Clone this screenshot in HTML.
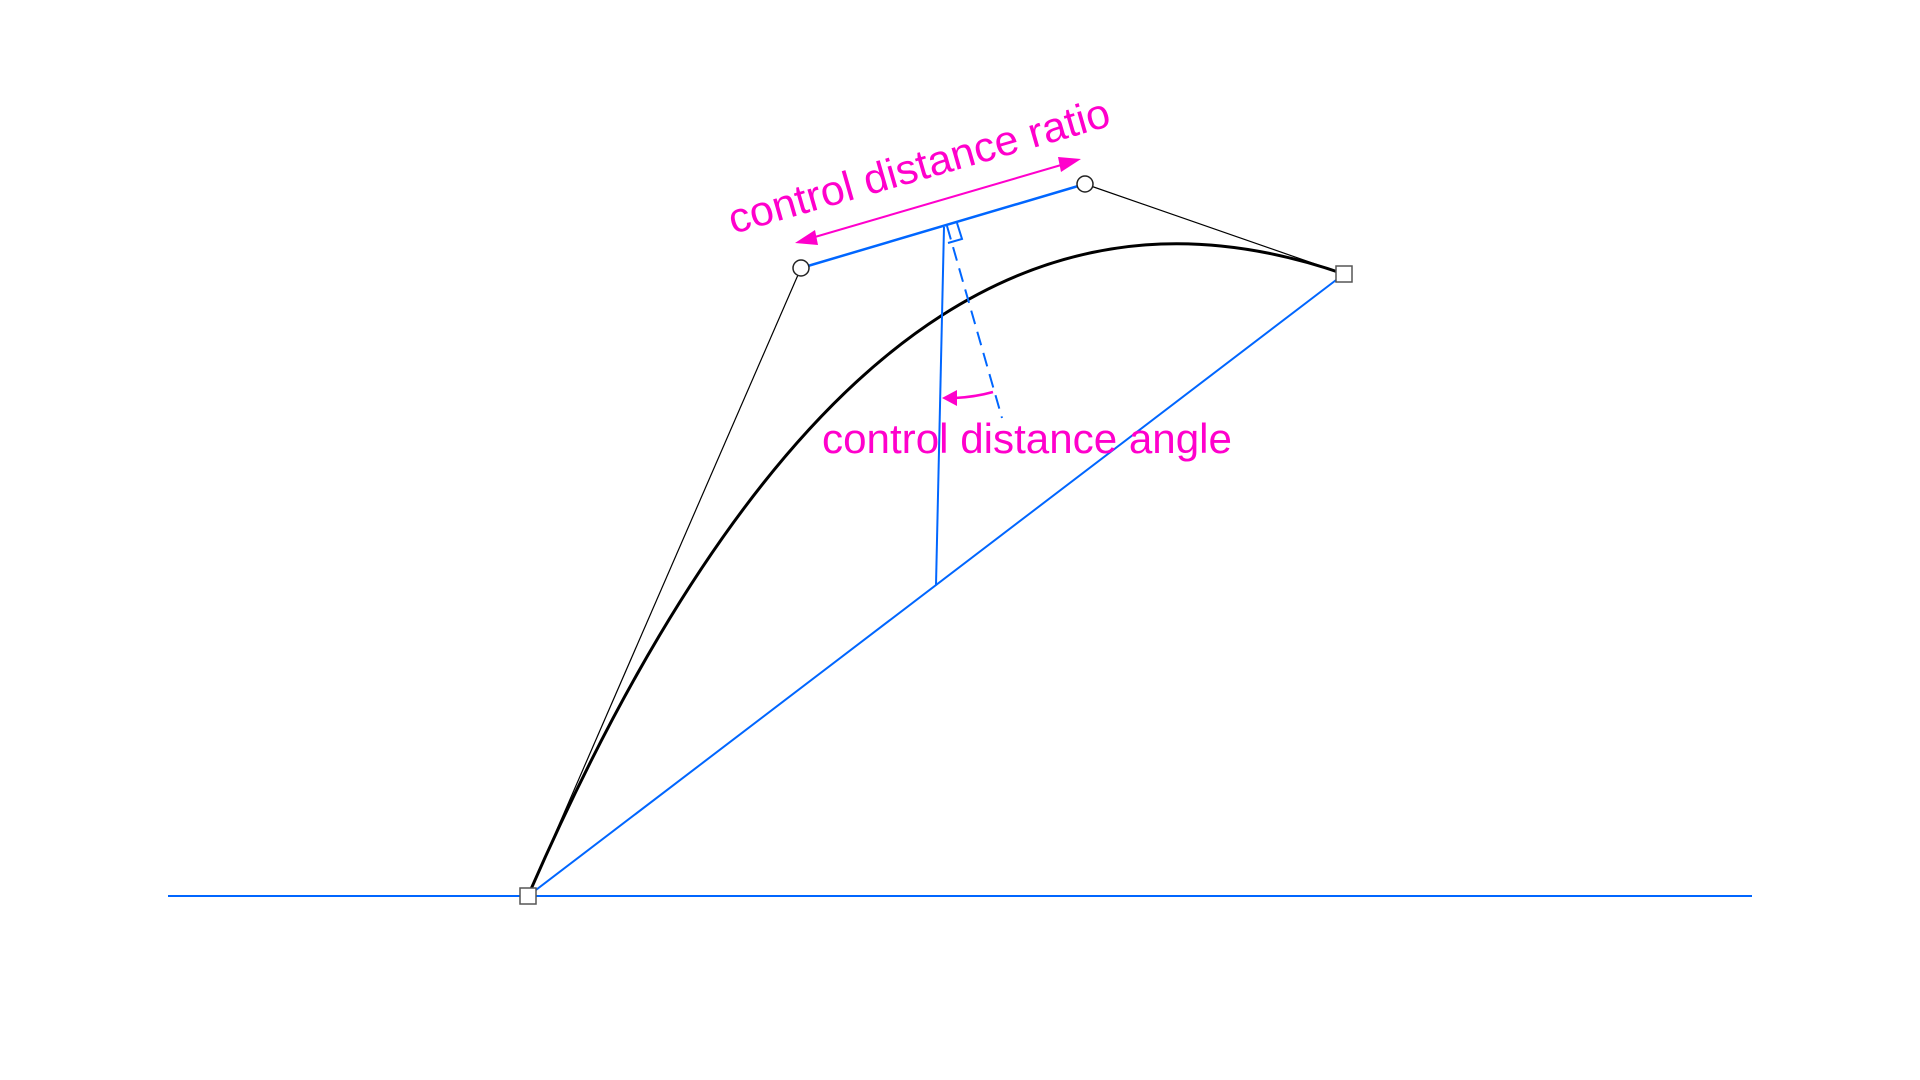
<!DOCTYPE html>
<html><head><meta charset="utf-8"><style>
html,body{margin:0;padding:0;background:#fff;width:1920px;height:1080px;overflow:hidden}
text{font-family:"Liberation Sans",sans-serif;fill:#ff00cc}
</style></head><body>
<svg width="1920" height="1080" viewBox="0 0 1920 1080">
<script>
const P0=[528,896], C1=[801,268], C2=[1085,184], P3=[1344,274];
</script>
<line x1="168" y1="896" x2="1752" y2="896" stroke="#0066ff" stroke-width="2"/>
<line x1="528" y1="896" x2="1344" y2="274" stroke="#0066ff" stroke-width="2"/>
<line x1="528" y1="896" x2="801" y2="268" stroke="#000" stroke-width="1.2"/>
<line x1="1085" y1="184" x2="1344" y2="274" stroke="#000" stroke-width="1.2"/>
<line x1="801" y1="268" x2="1085" y2="184" stroke="#0066ff" stroke-width="2.5"/>
<path d="M528,896 C801,268 1085,184 1344,274" fill="none" stroke="#000" stroke-width="3"/>
<line x1="944" y1="227" x2="936" y2="585" stroke="#0066ff" stroke-width="2"/>
<line x1="947" y1="226" x2="1002" y2="418" stroke="#0066ff" stroke-width="2" stroke-dasharray="14,8"/>
<path d="M957,223 L962,239 L948,243" fill="none" stroke="#0066ff" stroke-width="2"/>
<line x1="808" y1="239" x2="1068" y2="163" stroke="#ff00cc" stroke-width="2"/>
<path d="M795,243 L815,230 L818,245 z" fill="#ff00cc"/>
<path d="M1081,159 L1061,172 L1058,157 z" fill="#ff00cc"/>
<path d="M993,392 Q975,397 955,398" fill="none" stroke="#ff00cc" stroke-width="2.5"/>
<path d="M942,398 L957,390 L957,406 z" fill="#ff00cc"/>
<rect x="520" y="888" width="16" height="16" fill="#fff" stroke="#555" stroke-width="1.5"/>
<rect x="1336" y="266" width="16" height="16" fill="#fff" stroke="#555" stroke-width="1.5"/>
<circle cx="801" cy="268" r="8" fill="#fff" stroke="#222" stroke-width="1.5"/>
<circle cx="1085" cy="184" r="8" fill="#fff" stroke="#222" stroke-width="1.5"/>
<text x="0" y="0" font-size="42" textLength="395" lengthAdjust="spacingAndGlyphs" transform="translate(733,234) rotate(-16)">control distance ratio</text>
<text x="822" y="453" font-size="42" textLength="410" lengthAdjust="spacingAndGlyphs">control distance angle</text>
</svg>
</body></html>
